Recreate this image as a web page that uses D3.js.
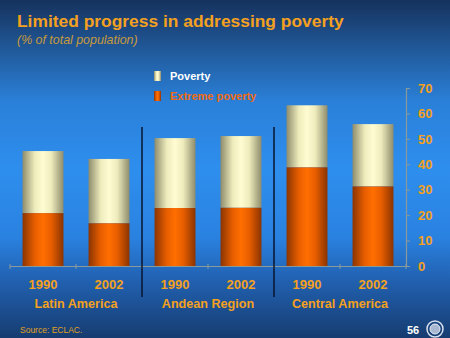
<!DOCTYPE html>
<html><head><meta charset="utf-8">
<script src="https://cdn.jsdelivr.net/npm/d3@7"></script>
<style>html,body{margin:0;padding:0;background:#1a4a8a;}svg{display:block;}</style>
</head><body>
<script>
const years = ["1990","2002","1990","2002","1990","2002"];
const regions = ["Latin America","Andean Region","Central America"];
const poverty = [45.2, 42.1, 50.3, 51.1, 63.2, 55.8];
const extreme = [20.8, 16.8, 22.8, 22.9, 38.8, 31.3];
const yTicks = [0,10,20,30,40,50,60,70];
const seriesNames = ["Poverty","Extreme poverty"];

const W=450,H=338;
const svg=d3.select("body").append("svg").attr("width",W).attr("height",H);
const defs=svg.append("defs");
const bg=defs.append("linearGradient").attr("id","bg").attr("x1",0).attr("y1",0).attr("x2",0).attr("y2",1);
[[0,"#15325c"],[0.12,"#1f528f"],[0.3,"#2a80d8"],[0.5,"#2e8eee"],[0.7,"#2a82e0"],[0.82,"#2263b4"],[1,"#163c70"]]
 .forEach(([o,c])=>bg.append("stop").attr("offset",o).attr("stop-color",c));
const og=defs.append("linearGradient").attr("id","og").attr("x1",0).attr("x2",1).attr("y1",0).attr("y2",0);
[[0,"#8a3400"],[0.3,"#e85e00"],[0.5,"#ff6e00"],[0.7,"#e85e00"],[1,"#8a3400"]]
 .forEach(([o,c])=>og.append("stop").attr("offset",o).attr("stop-color",c));
const bgd=defs.append("linearGradient").attr("id","bgd").attr("x1",0).attr("x2",1).attr("y1",0).attr("y2",0);
[[0,"#8e8c6c"],[0.3,"#eeecbc"],[0.5,"#fffcd2"],[0.7,"#eeecbc"],[1,"#8e8c6c"]]
 .forEach(([o,c])=>bgd.append("stop").attr("offset",o).attr("stop-color",c));

svg.append("rect").attr("width",W).attr("height",H).attr("fill","url(#bg)");

const orange="#f4a020";
svg.append("text").attr("x",17).attr("y",27).text("Limited progress in addressing poverty")
 .attr("font-family","Liberation Sans, Arial, sans-serif").attr("font-weight","bold").attr("font-size",17.4).attr("fill",orange);
svg.append("text").attr("x",17).attr("y",44).text("(% of total population)")
 .attr("font-family","Liberation Sans, Arial, sans-serif").attr("font-style","italic").attr("font-size",12.4).attr("fill","#c89a3a");

const x=d3.scaleBand().domain(d3.range(6)).range([10,406]).paddingInner(0.38).paddingOuter(0.19);
const y=d3.scaleLinear().domain([0,70]).range([266,88]);

// bars
const g=svg.append("g");
g.selectAll(".pov").data(poverty).join("rect")
 .attr("x",(d,i)=>x(i)).attr("width",x.bandwidth())
 .attr("y",(d,i)=>y(d)).attr("height",(d,i)=>y(extreme[i])-y(d)).attr("fill","url(#bgd)");
g.selectAll(".ext").data(extreme).join("rect")
 .attr("x",(d,i)=>x(i)).attr("width",x.bandwidth())
 .attr("y",d=>y(d)).attr("height",d=>y(0)-y(d)).attr("fill","url(#og)");

// x baseline with boundary ticks
const axc="#8a9a9a";
svg.append("line").attr("x1",10).attr("x2",406).attr("y1",y(0)+0.5).attr("y2",y(0)+0.5).attr("stroke",axc).attr("stroke-width",1.2);
d3.range(7).forEach(k=>{
  const xx=10+k*x.step();
  svg.append("line").attr("x1",xx).attr("x2",xx).attr("y1",y(0)-2).attr("y2",y(0)+3).attr("stroke",axc);
});

// y axis on right
const ya=svg.append("g").attr("transform","translate(406,0)").call(d3.axisRight(y).tickValues(yTicks).tickSize(4).tickPadding(8));
ya.select(".domain").attr("stroke",axc).attr("stroke-width",1.2);
ya.selectAll(".tick line").attr("stroke",axc);
ya.selectAll(".tick text").attr("fill",orange).attr("font-family","Liberation Sans, Arial, sans-serif").attr("font-weight","bold").attr("font-size",13);

// separators
[2,4].forEach(i=>{
  const xx=(x(i-1)+x.bandwidth()+x(i))/2;
  svg.append("line").attr("x1",xx).attr("x2",xx).attr("y1",127).attr("y2",297).attr("stroke","#08142e").attr("stroke-width",1.5);
});

// year labels
svg.selectAll(".yr").data(years).join("text")
 .attr("x",(d,i)=>x(i)+x.bandwidth()/2).attr("y",289).attr("text-anchor","middle").text(d=>d)
 .attr("font-family","Liberation Sans, Arial, sans-serif").attr("font-weight","bold").attr("font-size",13).attr("fill",orange);
svg.selectAll(".rg").data(regions).join("text")
 .attr("x",(d,i)=>(x(2*i)+x(2*i+1)+x.bandwidth())/2).attr("y",308).attr("text-anchor","middle").text(d=>d)
 .attr("font-family","Liberation Sans, Arial, sans-serif").attr("font-weight","bold").attr("font-size",12.6).attr("fill",orange);

// legend
const leg=[{n:seriesNames[0],f:"url(#bgd)",c:"#ffffff",y:71},{n:seriesNames[1],f:"url(#og)",c:"#f06a10",y:91}];
leg.forEach(l=>{
  svg.append("rect").attr("x",154).attr("y",l.y).attr("width",7).attr("height",10).attr("fill",l.f);
  svg.append("text").attr("x",170).attr("y",l.y+9).text(l.n)
   .attr("font-family","Liberation Sans, Arial, sans-serif").attr("font-weight","bold").attr("font-size",11).attr("fill",l.c);
});

// footer
svg.append("text").attr("x",20).attr("y",333).text("Source: ECLAC.")
 .attr("font-family","Liberation Sans, Arial, sans-serif").attr("font-size",8.5).attr("fill","#e0a020");
svg.append("text").attr("x",407).attr("y",334).text("56")
 .attr("font-family","Liberation Sans, Arial, sans-serif").attr("font-weight","bold").attr("font-size",11).attr("fill","#ffffff");
const lg=svg.append("g").attr("transform","translate(435,329)");
lg.append("circle").attr("r",8).attr("fill","none").attr("stroke","#d8e0ee").attr("stroke-width",1.5);
lg.append("circle").attr("r",5).attr("fill","#a8b8d0").attr("stroke","#e8eef8").attr("stroke-width",1);
</script>
</body></html>
